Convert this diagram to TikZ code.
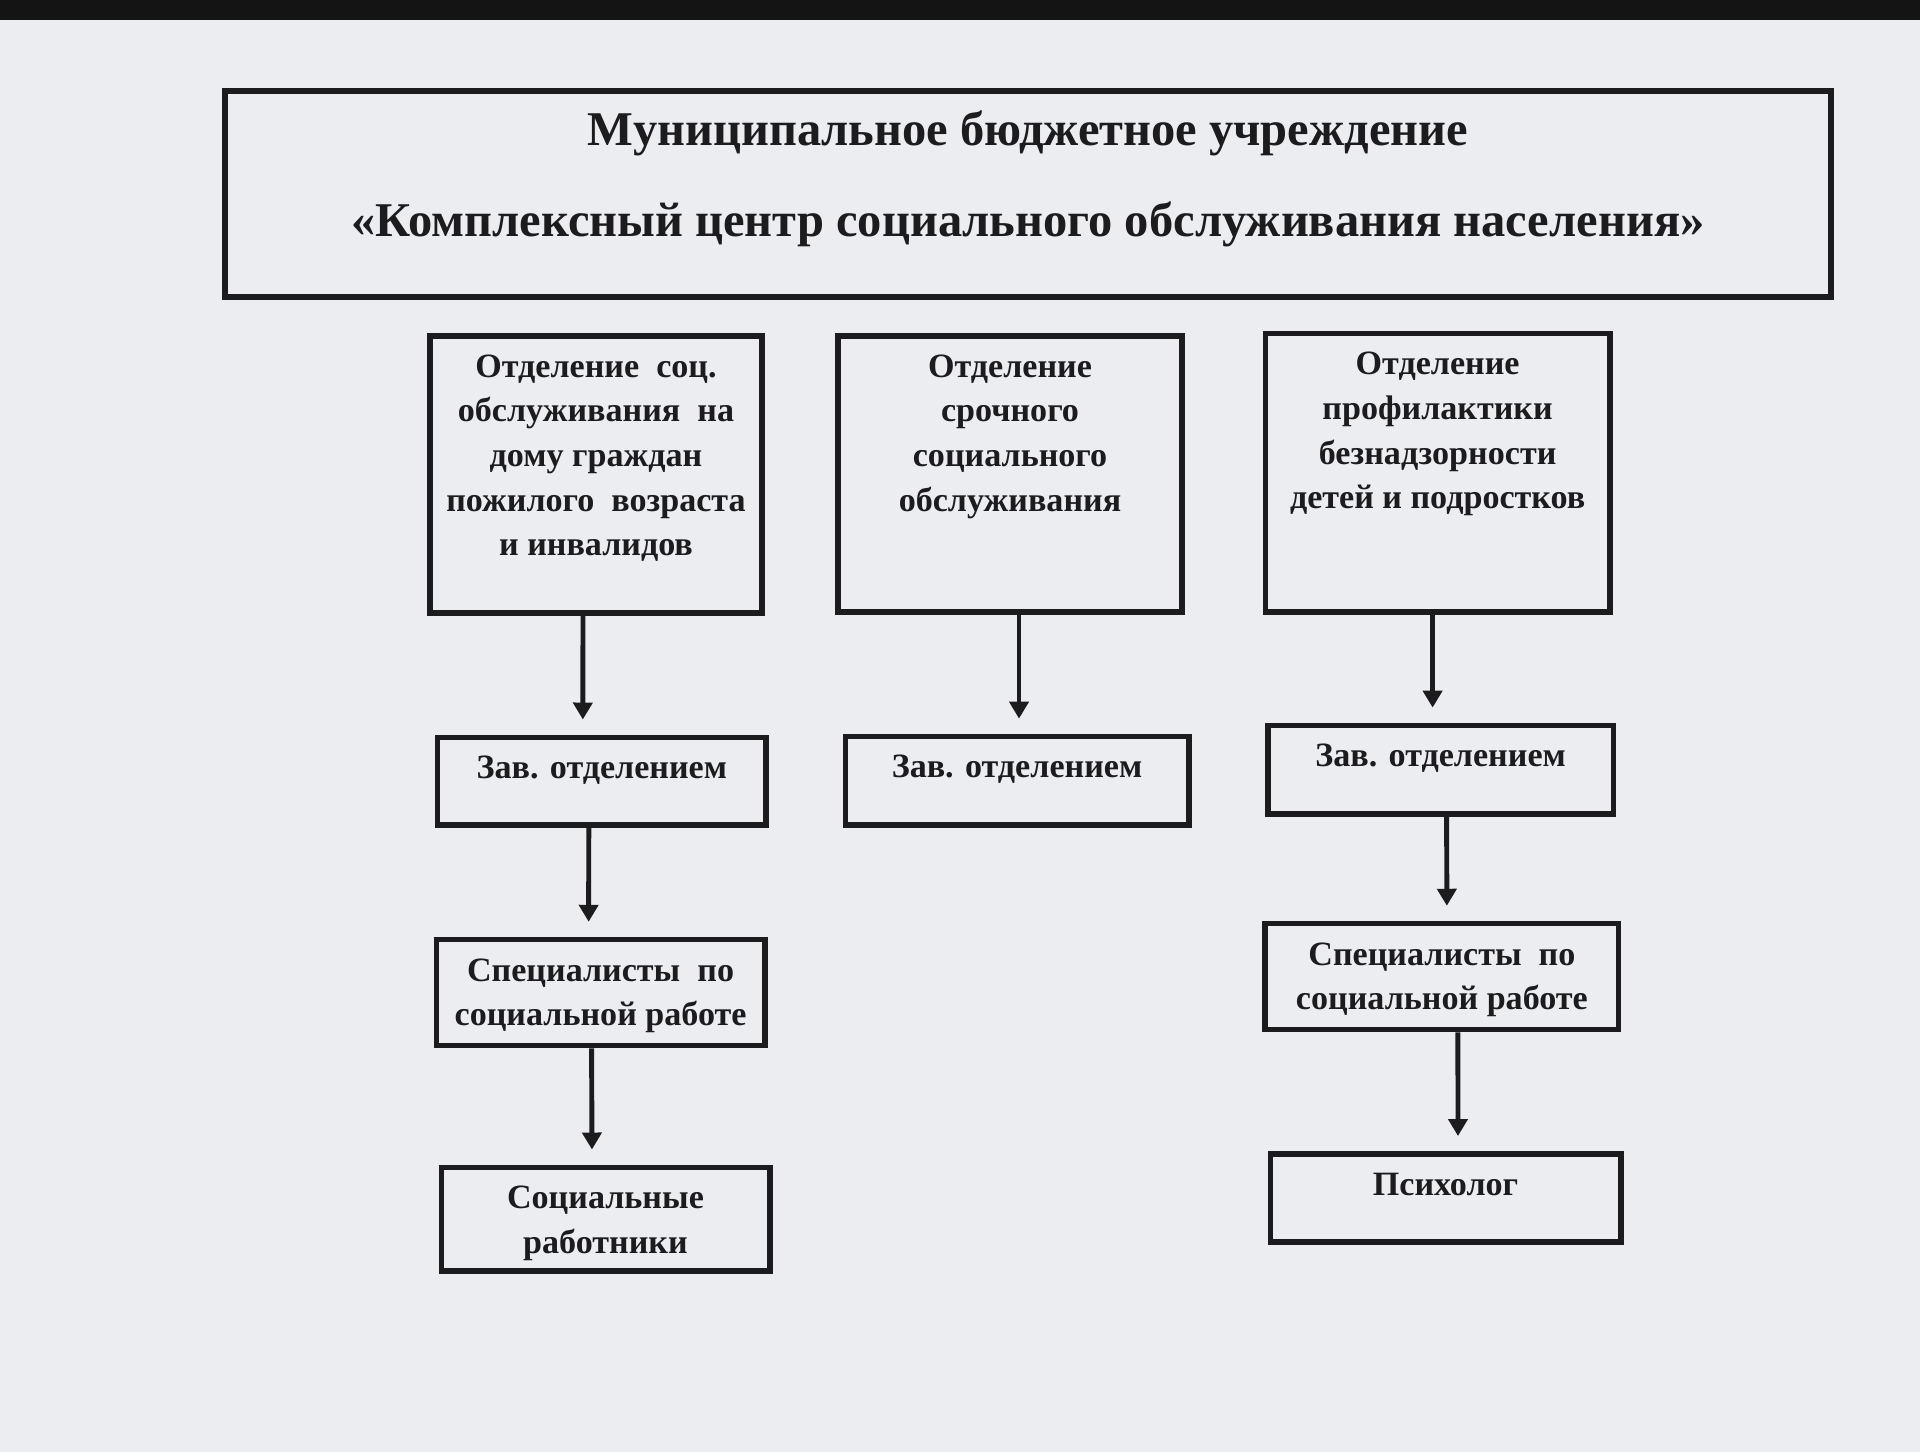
\documentclass[tikz,border=0pt]{standalone}
\usepackage{fontspec}
\setmainfont{Liberation Serif}
\usetikzlibrary{arrows.meta, positioning, calc}
\definecolor{paper}{RGB}{236,237,240}
\definecolor{ink}{RGB}{28,28,30}
\tikzset{
  box/.style 2 args={draw=ink, line width=1.6pt, inner sep=0pt,
    minimum width=#1cm-1.6pt, minimum height=#2cm-1.6pt}
}
\tikzset{
  boxtext/.style={font=\bfseries\fontsize{9.7}{12.7}\selectfont, text=ink,
    align=center, anchor=north, inner sep=0pt},
  titletext/.style={font=\bfseries\fontsize{13.8}{26}\selectfont, text=ink,
    align=center, anchor=north, inner sep=0pt},
  arr/.style={draw=ink, line width=1.4pt, shorten >=0.15cm,
    -{Triangle[length=0.17cm,width=0.19cm]}}
}

\begin{document}
\begin{tikzpicture}
      \useasboundingbox (0,0) rectangle (19.2,-14.52);
      \fill[paper] (0,0) rectangle (19.2,-14.52);
      \fill[black!92] (0,0) rectangle (19.2,-0.2);
      % institution on top
      \node[box={16.12}{2.12}] (inst) at (10.28,-1.94) {};
      \node[titletext] (instt) at ([yshift=-0.22cm]inst.north)
        {Муниципальное бюджетное учреждение\\«Комплексный центр социального обслуживания населения»};
      % departments
      \node[box={3.38}{2.83}] (dep1) at (5.96,-4.745) {};
      \node[box={3.50}{2.82}] (dep2) at (10.10,-4.74) {};
      \node[box={3.50}{2.84}] (dep3) at (14.376,-4.727) {};
      \node[boxtext] (dep1t) at ([yshift=-0.21cm]dep1.north)
        {Отделение\ \ соц.\\обслуживания\ \ на\\дому граждан\\пожилого\ \ возраста\\и инвалидов};
      \node[boxtext] (dep2t) at ([yshift=-0.21cm]dep2.north)
        {Отделение\\срочного\\социального\\обслуживания};
      \node[boxtext] (dep3t) at ([yshift=-0.21cm]dep3.north)
        {Отделение\\профилактики\\безнадзорности\\детей и подростков};
      % heads
      \node[box={3.34}{0.93}] (zav1) at (6.018,-7.81) {};
      \node[box={3.49}{0.94}] (zav2) at (10.17,-7.806) {};
      \node[box={3.51}{0.94}] (zav3) at (14.406,-7.696) {};
      \foreach \z in {zav1,zav2,zav3}
        \node[boxtext] (\z t) at ([yshift=-0.21cm]\z.north) {Зав. отделением};
      % staff
      \node[box={3.34}{1.115}] (spec1) at (6.006,-9.925) {};
      \node[box={3.59}{1.115}] (spec3) at (14.419,-9.765) {};
      \foreach \s in {spec1,spec3}
        \node[boxtext] (\s t) at ([yshift=-0.21cm]\s.north) {Специалисты\ \ по\\социальной работе};
      \node[box={3.34}{1.09}] (soc1) at (6.055,-12.19) {};
      \node[boxtext] (soc1t) at ([yshift=-0.21cm]soc1.north) {Социальные\\работники};
      \node[box={3.56}{0.94}] (psych) at (14.455,-11.98) {};
      \node[boxtext] (psycht) at ([yshift=-0.21cm]psych.north) {Психолог};
      % arrows sit a little off the box middles, as on the sheet
      \foreach \a/\b/\da/\db in {dep1/zav1/-0.13/-0.19, zav1/spec1/-0.13/-0.12,
          spec1/soc1/-0.09/-0.135, dep2/zav2/0.09/0.02, dep3/zav3/-0.05/-0.08,
          zav3/spec3/0.06/0.05, spec3/psych/0.16/0.125}
        \draw[arr] ([xshift=\da cm]\a.south) -- ([xshift=\db cm]\b.north);
    \end{tikzpicture}
\end{document}
